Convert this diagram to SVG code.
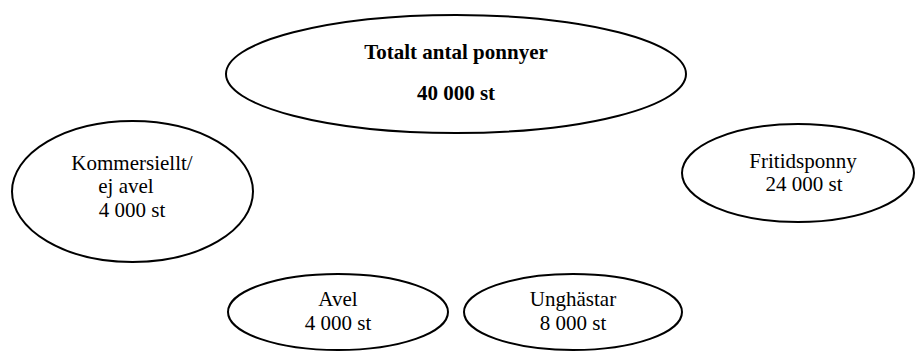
<svg xmlns="http://www.w3.org/2000/svg" width="915" height="358" viewBox="0 0 915 358">
<style>
.node ellipse{fill:#fff;stroke:#000;stroke-width:2}
text{font-family:"Liberation Serif","Times New Roman",serif;font-size:21px;fill:#000;text-anchor:middle}
.b{font-weight:bold}
</style>
<rect width="915" height="358" fill="#fff"/>
<g id="connectors"></g>
<g id="total" class="node">
<ellipse cx="456" cy="74" rx="230" ry="59"/>
<text class="b" x="456" y="59">Totalt antal ponnyer</text>
<text class="b" x="456" y="100">40 000 st</text>
</g>
<g id="kommersiellt" class="node">
<ellipse cx="132.5" cy="191.5" rx="120.5" ry="70.5"/>
<text x="132" y="170">Kommersiellt/</text>
<text x="126" y="193">ej avel</text>
<text x="132" y="217">4 000 st</text>
</g>
<g id="fritid" class="node">
<ellipse cx="798" cy="173" rx="116" ry="49"/>
<text x="803" y="168">Fritidsponny</text>
<text x="804" y="191">24 000 st</text>
</g>
<g id="avel" class="node">
<ellipse cx="338" cy="312" rx="110" ry="38"/>
<text x="338" y="306">Avel</text>
<text x="338" y="330">4 000 st</text>
</g>
<g id="unghastar" class="node">
<ellipse cx="573" cy="312" rx="109" ry="38"/>
<text x="573" y="306">Unghästar</text>
<text x="573" y="330">8 000 st</text>
</g>
</svg>
